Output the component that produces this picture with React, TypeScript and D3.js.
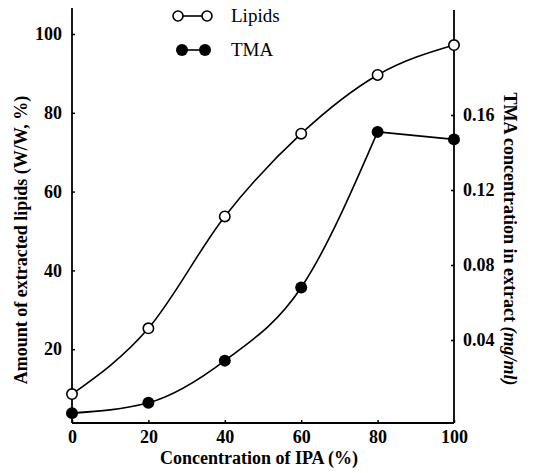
import React, { useEffect, useRef } from 'react';
import * as d3 from 'd3';

// IPA concentration (%)
const ipa = [0, 20, 40, 60, 80, 100];
// amount of extracted lipids (W/W, %)
const lipids = [8.6, 25.3, 53.7, 74.7, 89.6, 97.2];
// TMA concentration in extract (mg/ml)
const tma = [0.001, 0.0065, 0.029, 0.068, 0.151, 0.147];

const xTicks = [0, 20, 40, 60, 80, 100];
const leftTicks = [20, 40, 60, 80, 100];
const rightTicks = [0.04, 0.08, 0.12, 0.16];
const rightTickLabels = ['0.04', '0.08', '0.12', '0.16'];

const legendItems = [
  { name: 'Lipids', filled: false },
  { name: 'TMA', filled: true },
];

const W = 537, H = 473;
const FONT = '"Liberation Serif", "Times New Roman", serif';

export default function App() {
  const ref = useRef<SVGSVGElement>(null);

  useEffect(() => {
    const svg = d3.select(ref.current);
    svg.selectAll('*').remove();

    const plot = { left: 72, right: 454, bottom: 423, top: 8 };

    const x = d3.scaleLinear().domain([0, 100]).range([72, 454]);
    const y = d3.scaleLinear().domain([0, 100]).range([428, 34]);
    const y2 = d3.scaleLinear().domain([0, 0.16]).range([415, 115]);

    // axis lines
    const frame = svg.append('g').attr('stroke', '#000').attr('stroke-width', 1.8);
    frame.append('line').attr('x1', plot.left).attr('x2', plot.left).attr('y1', plot.bottom).attr('y2', plot.top);
    frame.append('line').attr('x1', plot.right).attr('x2', plot.right).attr('y1', plot.bottom).attr('y2', plot.top + 2);
    frame.append('line').attr('x1', plot.left).attr('x2', plot.right).attr('y1', plot.bottom).attr('y2', plot.bottom);

    const styleAxis = (g: any) => {
      g.select('.domain').remove();
      g.selectAll('line').attr('stroke', '#000').attr('stroke-width', 1.5);
      g.selectAll('text')
        .attr('font-family', FONT)
        .attr('font-size', 18)
        .attr('font-weight', 'bold')
        .attr('fill', '#000');
    };

    svg.append('g')
      .attr('transform', `translate(${plot.left},0)`)
      .call(d3.axisLeft(y).tickValues(leftTicks).tickSizeInner(-3).tickSizeOuter(0).tickPadding(10))
      .call(styleAxis);

    svg.append('g')
      .attr('transform', `translate(${plot.right},0)`)
      .call(d3.axisRight(y2).tickValues(rightTicks).tickFormat((d, i) => rightTickLabels[i]).tickSizeInner(-3).tickSizeOuter(0).tickPadding(9))
      .call(styleAxis);

    svg.append('g')
      .attr('transform', `translate(0,${plot.bottom})`)
      .call(d3.axisBottom(x).tickValues(xTicks).tickSizeInner(-3).tickSizeOuter(0).tickPadding(7))
      .call(styleAxis);

    // axis titles
    const title = (t: any) => t
      .attr('font-family', FONT)
      .attr('font-size', 18)
      .attr('font-weight', 'bold')
      .attr('text-anchor', 'middle')
      .attr('fill', '#000');

    svg.append('text')
      .attr('x', 259).attr('y', 464)
      .text('Concentration of IPA (%)')
      .call(title);

    svg.append('text')
      .attr('transform', 'translate(27,240) rotate(-90)')
      .text('Amount of extracted lipids (W/W, %)')
      .call(title);

    const rt = svg.append('text')
      .attr('transform', 'translate(504,239) rotate(90)')
      .call(title);
    rt.append('tspan').text('TMA concentration in extract ');
    rt.append('tspan').attr('font-style', 'italic').text('(mg/ml)');

    // series
    const pts = (vals: number[], ys: any) => vals.map((v, i) => [x(ipa[i]), ys(v)] as [number, number]);

    const smooth = d3.line().curve(d3.curveMonotoneX);
    const straight = d3.line();

    svg.append('path').datum(pts(lipids, y))
      .attr('d', smooth).attr('fill', 'none').attr('stroke', '#000').attr('stroke-width', 1.6);

    // TMA rises steeply to its peak at 80 % and then levels off
    const tmaPts = pts(tma, y2);
    const peak = 4;
    svg.append('path').datum(tmaPts.slice(0, peak + 1))
      .attr('d', smooth).attr('fill', 'none').attr('stroke', '#000').attr('stroke-width', 1.6);
    svg.append('path').datum(tmaPts.slice(peak))
      .attr('d', straight).attr('fill', 'none').attr('stroke', '#000').attr('stroke-width', 1.6);

    svg.selectAll('.lip').data(lipids).enter().append('circle')
      .attr('class', 'lip')
      .attr('cx', (d, i) => x(ipa[i])).attr('cy', d => y(d))
      .attr('r', 5.2).attr('fill', '#fff').attr('stroke', '#000').attr('stroke-width', 1.6);

    svg.selectAll('.tma').data(tma).enter().append('circle')
      .attr('class', 'tma')
      .attr('cx', (d, i) => x(ipa[i])).attr('cy', d => y2(d))
      .attr('r', 6).attr('fill', '#000');

    // legend
    const legend = svg.append('g');
    legendItems.forEach((item, i) => {
      const ly = 16 + i * 34;
      const x1 = item.filled ? 182 : 178, x2 = item.filled ? 205 : 207;
      legend.append('line').attr('x1', x1).attr('x2', x2).attr('y1', ly).attr('y2', ly)
        .attr('stroke', '#000').attr('stroke-width', 1.6);
      [x1, x2].forEach(cx => {
        legend.append('circle').attr('cx', cx).attr('cy', ly)
          .attr('r', item.filled ? 6 : 5)
          .attr('fill', item.filled ? '#000' : '#fff')
          .attr('stroke', '#000').attr('stroke-width', item.filled ? 0 : 1.6);
      });
      legend.append('text')
        .attr('x', 231).attr('y', ly + 6)
        .attr('font-family', FONT).attr('font-size', 19).attr('fill', '#000')
        .text(item.name);
    });
  }, []);

  return (
    <svg ref={ref} width={W} height={H}
      style={{ position: 'absolute', left: 0, top: 0, background: '#fff' }} />
  );
}
